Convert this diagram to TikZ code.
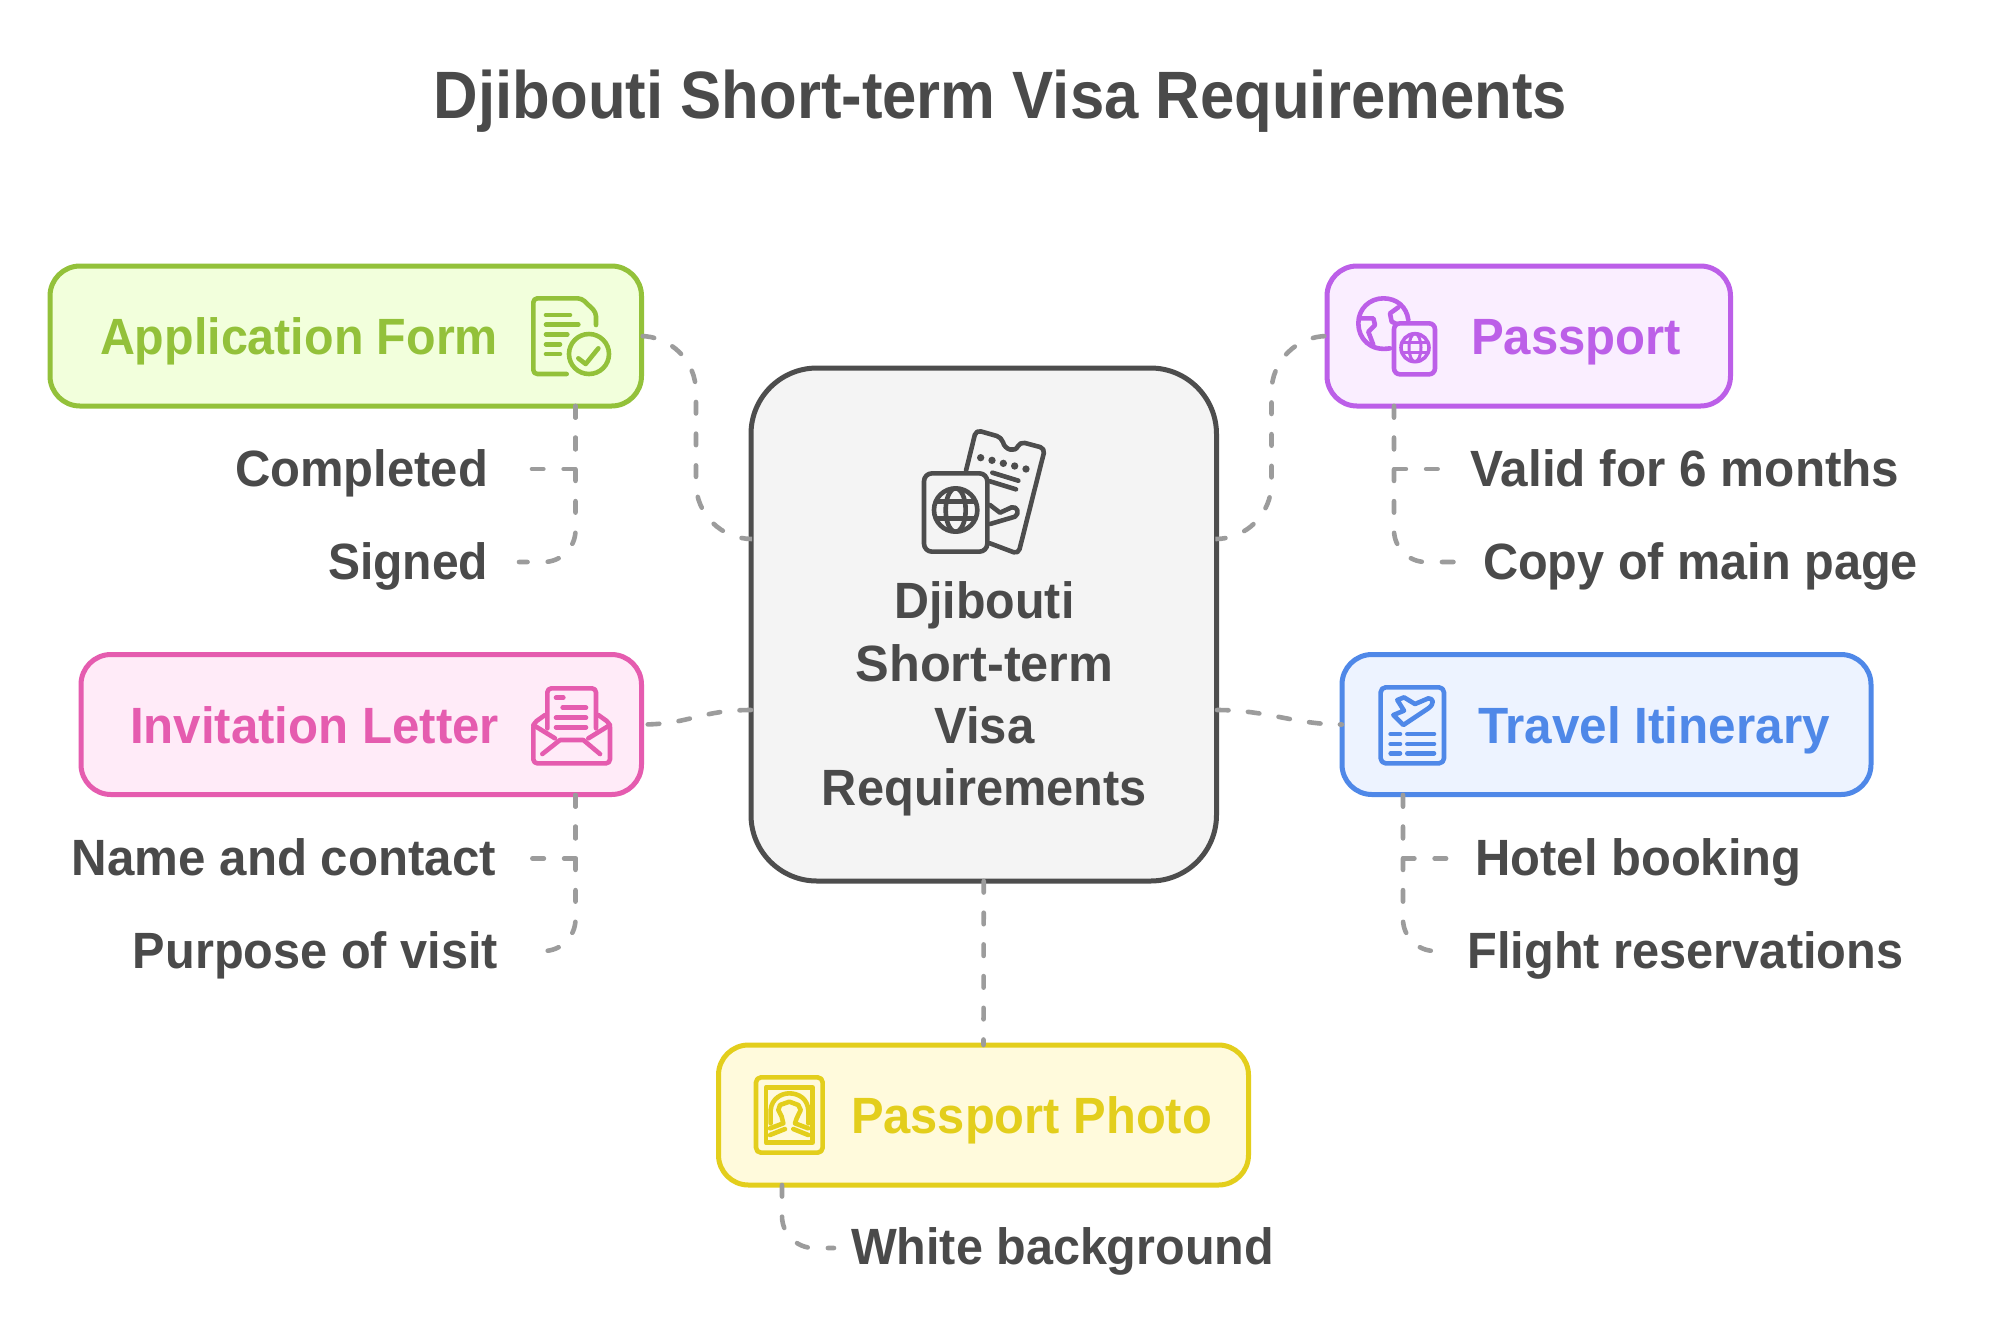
\documentclass[tikz,border=0pt]{standalone}
\usepackage{fontspec}
\setmainfont{Liberation Sans}
\usetikzlibrary{calc}
\definecolor{ink}{HTML}{4A4A4A}
\definecolor{dashgrey}{HTML}{9C9C9C}
\definecolor{gS}{HTML}{93C13A}\definecolor{gF}{HTML}{F2FFDC}
\definecolor{pS}{HTML}{BC5FE8}\definecolor{pF}{HTML}{FAEEFF}
\definecolor{kS}{HTML}{E55CAF}\definecolor{kF}{HTML}{FFEBF8}
\definecolor{bS}{HTML}{4F88E8}\definecolor{bF}{HTML}{EDF3FF}
\definecolor{yS}{HTML}{E3CE1C}\definecolor{yF}{HTML}{FFFADC}
\definecolor{cS}{HTML}{4D4D4D}\definecolor{cF}{HTML}{F4F4F4}
\newcommand{\fitw}[2]{\resizebox{\dimexpr #1pt*5/10\relax}{\height}{#2}}
\tikzset{
  box/.style={rounded corners=15pt,line width=2.5pt,inner sep=0,outer sep=0,minimum height=70pt},
  conn/.style={draw=dashgrey,line width=2.3pt,line cap=round,dash pattern=on 5.75pt off 10.1pt},
  connshort/.style={conn,dash pattern=on 5.75pt off 9.75pt},
  lab/.style={anchor=base west,inner sep=0,outer sep=0,font=\fontsize{25.5}{30}\selectfont\bfseries},
  mid/.style={lab,anchor=base,text=ink},
  sub/.style={lab,text=ink},
  ic/.style={line width=2.3pt,line cap=round,line join=round},
}
\begin{document}
\begin{tikzpicture}[x=0.5pt,y=-0.5pt]
\useasboundingbox[fill=white] (0,0) rectangle (1999,1341);
\node[lab,anchor=base,text=ink,font=\fontsize{33.5}{40}\selectfont\bfseries] (title) at (1000.5,118) {\fitw{1133}{Djibouti Short-term Visa Requirements}};
% boxes
\node[box,draw=cS,fill=cF,rounded corners=33pt,minimum width=232.75pt,minimum height=256.5pt] (cen) at (983.75,624.5) {};
\node[box,draw=gS,fill=gF,minimum width=295.75pt] (green) at (345.75,336) {};
\node[box,draw=pS,fill=pF,minimum width=201.75pt] (purple) at (1528.75,336) {};
\node[box,draw=kS,fill=kF,minimum width=280.25pt] (pink) at (361.25,724.5) {};
\node[box,draw=bS,fill=bF,minimum width=264.5pt] (blue) at (1606.5,724.5) {};
\node[box,draw=yS,fill=yF,minimum width=265pt] (yellow) at (983.5,1115) {};
% box labels
\node[lab,text=gS] (tg) at (100,354) {\fitw{398}{Application Form}};
\node[lab,text=pS] (tp) at (1471,354) {\fitw{210}{Passport}};
\node[lab,text=kS] (tk) at (130,743) {\fitw{369}{Invitation Letter}};
\node[lab,text=bS] (tb) at (1478,743) {\fitw{352}{Travel Itinerary}};
\node[lab,text=yS] (ty) at (851,1133) {\fitw{361}{Passport Photo}};
% sub labels
\node[sub] (s1) at (235,486) {\fitw{253}{Completed}};
\node[sub] (s2) at (328,579) {\fitw{160}{Signed}};
\node[sub] (s3) at (1470.5,486) {\fitw{429}{Valid for 6 months}};
\node[sub] (s4) at (1483,579) {\fitw{435}{Copy of main page}};
\node[sub] (s5) at (72,875.5) {\fitw{424}{Name and contact}};
\node[sub] (s6) at (133,968.5) {\fitw{365}{Purpose of visit}};
\node[sub] (s7) at (1475.5,875.5) {\fitw{326}{Hotel booking}};
\node[sub] (s8) at (1467.5,968.5) {\fitw{436}{Flight reservations}};
\node[sub] (s9) at (851,1264.5) {\fitw{423}{White background}};
% centre text
\node[mid] (c1) at (984.5,618.5) {\fitw{180}{Djibouti}};
\node[mid] (c2) at (984.5,681) {\fitw{258}{Short-term}};
\node[mid] (c3) at (984.5,743) {\fitw{100}{Visa}};
\node[mid] (c4) at (984.5,805.5) {\fitw{325}{Requirements}};
% connector anchors
\coordinate (cg) at (751,539);
\coordinate (cp) at (1217,539);
\coordinate (ck) at (751,710);
\coordinate (cb) at (1217,710);
\coordinate (e1) at (532,469);
\coordinate (e2) at (519,562);
\coordinate (e3) at (1444,469);
\coordinate (e4) at (1461,562);
\coordinate (e5) at (532,858.5);
\coordinate (e6) at (551,951);
\coordinate (e7) at (1458,858.5);
\coordinate (e8) at (1438,951);
\coordinate (e9) at (834,1248);
\coordinate (g0) at (575.5,406);
\coordinate (p0) at (1394,406);
\coordinate (k0) at (575.5,795);
\coordinate (b0) at (1403,795);
\coordinate (y0) at (782,1185);
% connectors
\draw[conn,rounded corners=28pt] (cg) -- (696,539) -- (696,336) -- (green.east);
\draw[conn,rounded corners=28pt] (cp) -- (1271.5,539) -- (1271.5,336) -- (purple.west);
\draw[connshort] (ck) .. controls (700,710) and (690,724.5) .. (pink.east);
\draw[connshort] (cb) .. controls (1268,710) and (1294,724.5) .. (blue.west);
\draw[conn] (cen.south) -- (yellow.north);
\draw[conn] (g0) -- (575.5,469) -- (e1);
\draw[conn,rounded corners=16pt] (g0) -- (575.5,562) -- (e2);
\draw[conn] (p0) -- (1394,469) -- (e3);
\draw[conn,rounded corners=16pt] (p0) -- (1394,562) -- (e4);
\draw[conn] (k0) -- (575.5,858.5) -- (e5);
\draw[conn,rounded corners=16pt] (k0) -- (575.5,951) -- (e6);
\draw[conn] (b0) -- (1403,858.5) -- (e7);
\draw[conn,rounded corners=16pt] (b0) -- (1403,951) -- (e8);
\draw[conn,rounded corners=16pt] (y0) -- (782,1248) -- (e9);
% centre icon
\begin{scope}[shift={(880,400)},scale=1/3,ic,draw=cS]
\draw[rounded corners=2.5pt] (258,212) -- (288,90) -- (365,112) .. controls (375,150) and (405,158) .. (420,125) -- (495,145) -- (415,462) -- (330,430);
\fill[cS] (302,173) circle (11) (336,181) circle (11) (370,190) circle (11) (404,198) circle (11) (438,207) circle (11);
\draw (337,218) -- (415,242) (327,243) -- (408,268);
\draw (330,315) -- (360,338) -- (395,322) .. controls (412,318) and (420,340) .. (405,350) -- (330,372);
\draw[rounded corners=4pt,fill=cF] (132,220) rectangle (322,455);
\draw (227,330) circle (65);
\draw (227,330) ellipse (30 and 65);
\draw (170,305) -- (284,305) (170,355) -- (284,355);
\end{scope}
% application icon
\begin{scope}[shift={(520,280)},scale=1/3,ic,draw=gS]
\draw[rounded corners=2pt] (140,282) -- (40,282) -- (40,55) -- (185,55) -- (228,97) -- (228,135);
\draw (78,105) -- (150,105) (78,134) -- (175,134) (78,163) -- (142,163) (78,193) -- (120,193) (78,222) -- (120,222);
\draw (207,222) circle (60);
\draw (175,235) -- (197,252) -- (235,205);
\end{scope}
% passport icon
\begin{scope}[shift={(1320,250)},scale=1/3,ic,draw=pS]
\draw (210,295) .. controls (150,305) and (115,265) .. (115,220) .. controls (115,175) and (150,145) .. (190,145) .. controls (230,145) and (260,170) .. (265,210);
\draw (118,205) -- (160,205) -- (165,225) -- (145,245) -- (160,285);
\draw (235,172) -- (210,190) -- (215,215) -- (230,222);
\draw[rounded corners=3pt] (222,220) rectangle (345,373);
\draw[line width=1.8pt] (285,293) circle (42);
\draw[line width=1.5pt] (285,293) ellipse (18 and 42);
\draw[line width=1.5pt] (245,278) -- (325,278) (245,308) -- (325,308);
\end{scope}
% letter icon
\begin{scope}[shift={(510,670)},scale=1/3,ic,draw=kS]
\draw[rounded corners=2pt] (112,175) -- (112,55) -- (258,55) -- (258,175);
\draw (138,83) -- (160,83) (158,113) -- (228,113) (138,143) -- (228,143) (138,172) -- (228,172);
\draw[rounded corners=2pt] (105,135) -- (70,160) -- (70,280) -- (300,280) -- (300,160) -- (265,135);
\draw (70,165) -- (135,205) (300,165) -- (235,205);
\draw (97,252) -- (150,210) -- (220,210) -- (270,252);
\end{scope}
% itinerary icon
\begin{scope}[shift={(1360,670)},scale=1/3,ic,draw=bS]
\draw[rounded corners=2.5pt] (62,52) rectangle (252,280);
\draw (112,90) -- (132,82) -- (165,102) -- (205,85) .. controls (220,85) and (225,100) .. (205,115) -- (130,165) -- (100,135) -- (132,122) -- cycle;
\foreach \yy in {192,222,250}{\draw (92,\yy) -- (120,\yy) (142,\yy) -- (222,\yy);}
\end{scope}
% photo icon
\begin{scope}[shift={(740,1060)},scale=1/3,ic,draw=yS]
\draw[rounded corners=2.5pt] (48,52) rectangle (248,278);
\draw (78,82) rectangle (218,248);
\draw (92,190) -- (92,150) .. controls (95,115) and (125,100) .. (148,100) .. controls (175,100) and (202,115) .. (205,150) -- (205,190);
\draw (90,205) -- (130,190) -- (125,170) -- (115,150) -- (120,135) -- (148,125) -- (175,135) -- (182,150) -- (170,175) -- (165,190) -- (205,205);
\draw (90,225) -- (135,207) (205,225) -- (160,207);
\end{scope}
\end{tikzpicture}
\end{document}
